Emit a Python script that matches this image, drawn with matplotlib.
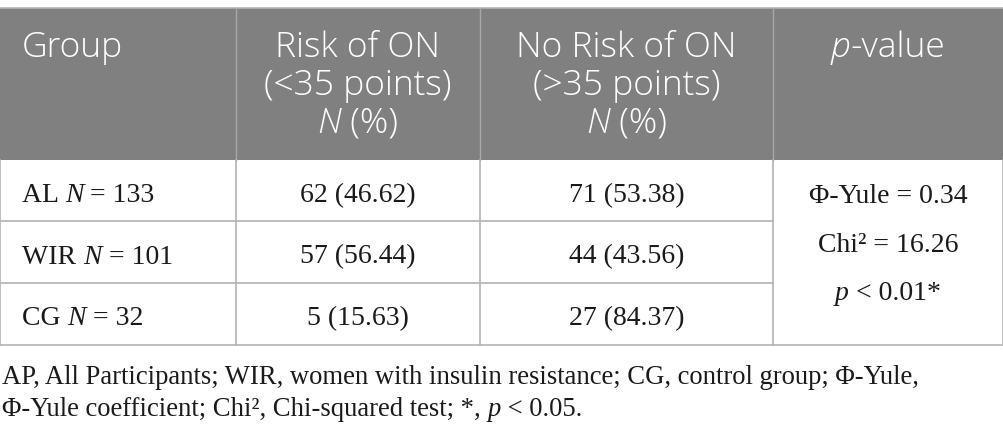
import matplotlib
matplotlib.use("Agg")
import matplotlib.pyplot as plt
from matplotlib.patches import Rectangle

# ---------------- data ----------------
header_group = "Group"
header_risk = ["Risk of ON", "(<35 points)"]
header_norisk = ["No Risk of ON", "(>35 points)"]
header_np = "N"          # italic part of "N (%)"
header_pvalue = "p"      # italic part of "p-value"

groups = ["AL", "WIR", "CG"]
group_n = [133, 101, 32]
risk_n = [62, 57, 5]
risk_pct = ["46.62", "56.44", "15.63"]
norisk_n = [71, 44, 27]
norisk_pct = ["53.38", "43.56", "84.37"]
phi_yule = "0.34"
chi2 = "16.26"
p_val = "0.01*"

caption_lines = [
    "AP, All Participants; WIR, women with insulin resistance; CG, control group; \u03a6-Yule,",
    [("\u03a6-Yule coefficient; Chi\u00b2, Chi-squared test; *, ", "normal"), ("p", "italic"), (" < 0.05.", "normal")],
]

# ---------------- layout ----------------
W, H, DPI = 1004, 441, 100
SANS = "Open Sans"
SERIF = "Liberation Serif"
HEAD_FS = 25.5
HEAD_W = "light"
BODY_FS = 20
CAP_FS = 19.2
TXT = "#1a1a1a"
HEAD_BG = "#808080"
LINE = "#b3b3b3"
HEAD_LINE = "#a8a8a8"

fig = plt.figure(figsize=(W / DPI, H / DPI), dpi=DPI)
ax = fig.add_axes([0, 0, 1, 1])
ax.set_xlim(0, W)
ax.set_ylim(H, 0)
ax.axis("off")
renderer = fig.canvas.get_renderer()


def _width(s, family, style, size, weight):
    kw = dict(fontfamily=family, fontstyle=style, fontsize=size, fontweight=weight)
    t1 = ax.text(0, 0, s + "|", **kw)
    t2 = ax.text(0, 0, "|", **kw)
    w = t1.get_window_extent(renderer).width - t2.get_window_extent(renderer).width
    t1.remove()
    t2.remove()
    return w


def runs(x, y, parts, family, size, color, ha="left", weight="normal"):
    if isinstance(parts, str):
        parts = [(parts, "normal")]
    widths = [_width(s, family, st, size, weight) for s, st in parts]
    total = sum(widths)
    cur = x if ha == "left" else x - total / 2
    for (s, st), w in zip(parts, widths):
        ax.text(cur, y, s, fontfamily=family, fontstyle=st, fontsize=size,
                fontweight=weight, color=color, va="baseline", ha="left")
        cur += w


# columns
col_x = [0, 236, 480, 773, 1003]
top, head_bot = 8, 160
row_lines = [160, 221, 283, 345]

# header background
ax.add_patch(Rectangle((0, top), W, head_bot - top, facecolor=HEAD_BG, edgecolor="none"))
ax.plot([0, W], [top, top], color=LINE, lw=1.2)
for cx in col_x[1:-1]:
    ax.plot([cx, cx], [top, head_bot], color=HEAD_LINE, lw=1.0)

# body grid
for cx in col_x:
    ax.plot([cx, cx], [head_bot, row_lines[-1]], color=LINE, lw=1.2)
for ry in row_lines[1:-1]:
    ax.plot([0, col_x[3]], [ry, ry], color=LINE, lw=1.2)
ax.plot([0, W], [row_lines[-1], row_lines[-1]], color=LINE, lw=1.2)

# header text
head_base = [57, 95, 133]
c2 = (col_x[1] + col_x[2]) / 2
c3 = (col_x[2] + col_x[3]) / 2
c4 = (col_x[3] + col_x[4]) / 2
hk = dict(weight=HEAD_W)
runs(22, head_base[0], header_group, SANS, HEAD_FS, "white", **hk)
for i, s in enumerate(header_risk):
    runs(c2, head_base[i], s, SANS, HEAD_FS, "white", ha="center", **hk)
for i, s in enumerate(header_norisk):
    runs(c3, head_base[i], s, SANS, HEAD_FS, "white", ha="center", **hk)
npart = [(header_np, "italic"), (" (%)", "normal")]
runs(c2, head_base[2], npart, SANS, HEAD_FS, "white", ha="center", **hk)
runs(c3, head_base[2], npart, SANS, HEAD_FS, "white", ha="center", **hk)
runs(c4, head_base[0], [(header_pvalue, "italic"), ("-value", "normal")], SANS, HEAD_FS, "white",
     ha="center", **hk)

# body rows
row_base = [202, 263.5, 325]
for i in range(len(groups)):
    runs(22, row_base[i], [(groups[i] + " ", "normal"), ("N", "italic"), (f" = {group_n[i]}", "normal")],
         SERIF, BODY_FS, TXT)
    runs(c2, row_base[i], f"{risk_n[i]} ({risk_pct[i]})", SERIF, BODY_FS, TXT, ha="center")
    runs(c3, row_base[i], f"{norisk_n[i]} ({norisk_pct[i]})", SERIF, BODY_FS, TXT, ha="center")

# statistics cell
runs(c4, 203, f"\u03a6-Yule = {phi_yule}", SERIF, BODY_FS, TXT, ha="center")
runs(c4, 252, f"Chi\u00b2 = {chi2}", SERIF, BODY_FS, TXT, ha="center")
runs(c4, 300, [("p", "italic"), (f" < {p_val}", "normal")], SERIF, BODY_FS, TXT, ha="center")

# caption
runs(2, 384, caption_lines[0], SERIF, CAP_FS, TXT)
runs(2, 416, caption_lines[1], SERIF, CAP_FS, TXT)

fig.savefig("out.png", dpi=DPI, facecolor="white")
